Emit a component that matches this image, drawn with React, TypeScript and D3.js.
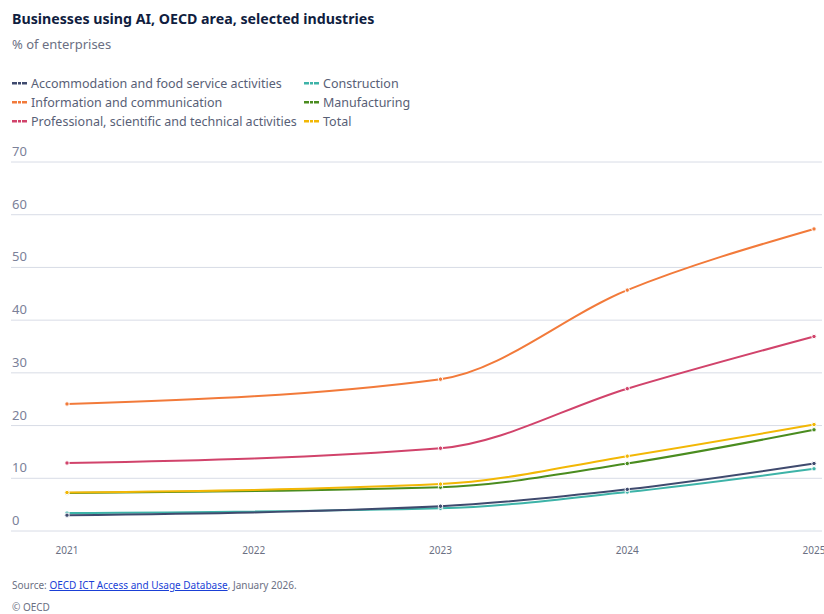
import React from "react";
import * as d3 from "d3";

const years = [2021, 2023, 2024, 2025];
const tickYears = [2021, 2022, 2023, 2024, 2025];
const yTicks = [0, 10, 20, 30, 40, 50, 60, 70];

const seriesNames = [
  "Accommodation and food service activities",
  "Information and communication",
  "Professional, scientific and technical activities",
  "Construction",
  "Manufacturing",
  "Total",
];
const seriesColors = ["#3f4a6e", "#f27a3a", "#d1436b", "#3db3a8", "#4a8c1f", "#f2b705"];

const accommodation = [3.0, 4.7, 7.9, 12.8];
const information = [24.1, 28.8, 45.7, 57.3];
const professional = [12.9, 15.7, 27.0, 36.9];
const construction = [3.4, 4.3, 7.4, 11.8];
const manufacturing = [7.2, 8.3, 12.8, 19.2];
const total = [7.3, 8.9, 14.2, 20.2];

const seriesValues = [accommodation, information, professional, construction, manufacturing, total];
// drawing order (back to front)
const drawOrder = [1, 2, 4, 5, 3, 0];

const W = 824;
const H = 614;
const font = "'Noto Sans', sans-serif";

export default function App() {
  const x = d3.scaleLinear().domain([2021, 2025]).range([67, 814]);
  const y = d3.scaleLinear().domain([0, 70]).range([531, 162]);
  const line = d3
    .line<[number, number]>()
    .x((d) => x(d[0]))
    .y((d) => y(d[1]))
    .curve(d3.curveMonotoneX);

  const legendPos = [
    { x: 12, y: 83 },
    { x: 12, y: 102 },
    { x: 12, y: 121 },
    { x: 304, y: 83 },
    { x: 304, y: 102 },
    { x: 304, y: 121 },
  ];

  return (
    <>
      <style>{`body{margin:0}`}</style>
      <svg width={W} height={H} style={{ display: "block", fontFamily: font }}>
        <rect width={W} height={H} fill="#fff" />
        <text x={12} y={24} fontSize={14.2} fontWeight={700} fill="#101d40">
          Businesses using AI, OECD area, selected industries
        </text>
        <text x={12} y={49} fontSize={13} fill="#6b7083">
          % of enterprises
        </text>

        {seriesNames.map((n, i) => (
          <g key={n} transform={`translate(${legendPos[i].x},${legendPos[i].y})`}>
            {[0, 1, 2].map((k) => (
              <rect
                key={k}
                x={k === 1 ? 6 : k === 0 ? 0 : 10}
                y={-1}
                width={k === 1 ? 3 : 5}
                height={2.5}
                fill={seriesColors[i]}
              />
            ))}
            <text x={19} y={4.5} fontSize={12.5} fill="#586076">
              {n}
            </text>
          </g>
        ))}

        {yTicks.map((t) => (
          <g key={t}>
            <line x1={11} x2={822} y1={y(t)} y2={y(t)} stroke="#d8dce6" strokeWidth={1} />
            <text x={12} y={y(t) - 6} fontSize={13} fill="#7b8199">
              {t}
            </text>
          </g>
        ))}

        {tickYears.map((t) => (
          <text key={t} x={x(t)} y={554} fontSize={10} fill="#6b7083" textAnchor="middle">
            {t}
          </text>
        ))}

        {drawOrder.map((i) => {
          const pts: [number, number][] = years.map((yr, j) => [yr, seriesValues[i][j]]);
          return (
            <g key={i}>
              <path d={line(pts) || ""} fill="none" stroke={seriesColors[i]} strokeWidth={2} />
              {pts.map((p, j) => (
                <circle
                  key={j}
                  cx={x(p[0])}
                  cy={y(p[1])}
                  r={2.2}
                  fill={seriesColors[i]}
                  stroke="#fff"
                  strokeWidth={1}
                />
              ))}
            </g>
          );
        })}

        <text x={12} y={589} fontSize={10} fill="#6b7083">
          Source:{" "}
          <tspan fill="#1a3fd6" style={{ textDecoration: "underline" }}>
            OECD ICT Access and Usage Database
          </tspan>
          , January 2026.
        </text>
        <text x={12} y={611} fontSize={10} fill="#6b7083">
          © OECD
        </text>
      </svg>
    </>
  );
}
